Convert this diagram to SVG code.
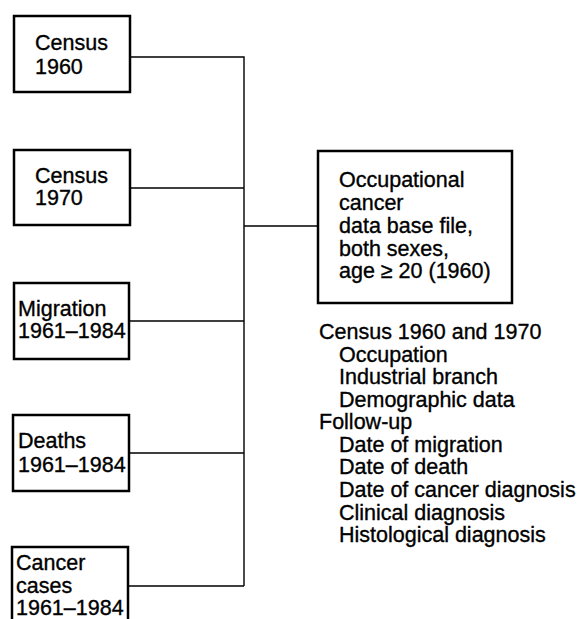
<svg xmlns="http://www.w3.org/2000/svg" width="587" height="619" viewBox="0 0 587 619">
<style>
.box{fill:#fff;stroke:#000;stroke-width:2.5}
.ln{fill:none;stroke:#000;stroke-width:1.4}
text{font-family:"Liberation Sans",Arial,sans-serif;font-size:21.5px;fill:#000;stroke:#000;stroke-width:0.35}
</style>
<rect width="587" height="619" fill="#fff"/>
<g id="connectors">
<path class="ln" d="M130 57H244V586M130 188H244M130 321H244M129 453H244M128 586H244M244 226H318"/>
</g>
<g id="census1960">
<rect class="box" x="14" y="16" width="116" height="76"/>
<text x="35" y="50">Census</text>
<text x="35" y="74">1960</text>
</g>
<g id="census1970">
<rect class="box" x="14" y="150" width="116" height="75"/>
<text x="35" y="183">Census</text>
<text x="35" y="205">1970</text>
</g>
<g id="migration">
<rect class="box" x="14" y="283" width="115" height="76"/>
<text x="18" y="316">Migration</text>
<text x="18" y="338">1961–1984</text>
</g>
<g id="deaths">
<rect class="box" x="13" y="415" width="116" height="76"/>
<text x="18" y="448">Deaths</text>
<text x="18" y="472">1961–1984</text>
</g>
<g id="cancer">
<rect class="box" x="12" y="547" width="116" height="80"/>
<text x="16" y="570">Cancer</text>
<text x="16" y="593">cases</text>
<text x="16" y="615">1961–1984</text>
</g>
<g id="database">
<rect class="box" x="318" y="151" width="194" height="152"/>
<text x="339" y="187">Occupational</text>
<text x="339" y="210">cancer</text>
<text x="339" y="233">data base file,</text>
<text x="339" y="256">both sexes,</text>
<text x="339" y="278">age ≥ 20 (1960)</text>
</g>
<g id="contents">
<text x="319" y="339">Census 1960 and 1970</text>
<text x="339" y="361.6">Occupation</text>
<text x="339" y="384.1">Industrial branch</text>
<text x="339" y="406.7">Demographic data</text>
<text x="319" y="429.2">Follow-up</text>
<text x="339" y="451.8">Date of migration</text>
<text x="339" y="474.4">Date of death</text>
<text x="339" y="496.9">Date of cancer diagnosis</text>
<text x="339" y="519.5">Clinical diagnosis</text>
<text x="339" y="542">Histological diagnosis</text>
</g>
</svg>
